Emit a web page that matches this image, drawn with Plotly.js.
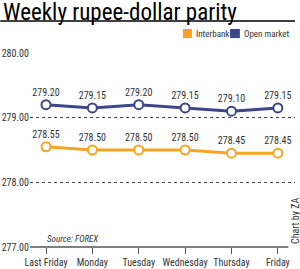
<!DOCTYPE html>
<html><head><meta charset="utf-8">
<script src="https://cdn.plot.ly/plotly-3.0.1.min.js"></script>
<style>html,body{margin:0;padding:0;background:#fff}#c{width:300px;height:269px}</style>
</head><body><div id="c"></div>
<script>
const days = ["Last Friday","Monday","Tuesday","Wednesday","Thursday","Friday"];
const openMarket = [279.20,279.15,279.20,279.15,279.10,279.15];
const interbank = [278.55,278.50,278.50,278.50,278.45,278.45];
const yTicks = [277,278,279,280];
const legendNames = ["Interbank","Open market"];

const FONT = "'Roboto Condensed', 'Liberation Sans', Arial, sans-serif";
const NAVY = "#3b4789";
const ORANGE = "#f5a621";

function series(name, ys, color) {
  return {
    type: "scatter", mode: "lines+markers+text", name: name, showlegend: false,
    x: days, y: ys,
    text: ys.map(v => v.toFixed(2)), textposition: "top center",
    textfont: {family: FONT, size: 10, color: "#333"},
    line: {color: color, width: 3},
    marker: {size: 9, color: "#fff", line: {color: color, width: 2}},
    cliponaxis: false, hoverinfo: "skip"
  };
}

const data = [
  series("Open market", openMarket, NAVY),
  series("Interbank", interbank, ORANGE)
];

const layout = {
  width: 300, height: 269,
  margin: {l: 30, r: 5, t: 53, b: 22},
  paper_bgcolor: "#fff", plot_bgcolor: "#fff",
  font: {family: FONT, size: 9, color: "#333"},
  showlegend: false,
  xaxis: {
    type: "category", range: [-0.345, 5.37],
    showgrid: false, zeroline: false,
    showline: false, ticks: "outside", ticklen: 6, tickcolor: "#555", tickwidth: 1,
    tickfont: {family: FONT, size: 10, color: "#333"}, fixedrange: true
  },
  yaxis: {
    range: [277, 280], tickvals: yTicks, ticktext: yTicks.map(v => v.toFixed(2)),
    showgrid: true, gridcolor: "#444", griddash: "dot", gridwidth: 1,
    zeroline: false, showline: false, ticks: "",
    tickfont: {family: FONT, size: 10, color: "#333"}, fixedrange: true
  },
  shapes: [
    {type: "line", xref: "paper", yref: "paper", x0: 0, x1: 0.975, y0: 0, y1: 0,
     line: {color: "#555", width: 1.5}},
    {type: "line", xref: "paper", yref: "paper", x0: -0.112, x1: 1.0, y0: 1.165, y1: 1.165,
     line: {color: "#000", width: 1.5}},
    {type: "rect", xref: "paper", yref: "paper", x0: 0.577, x1: 0.611, y0: 1.077, y1: 1.124,
     line: {width: 0}, fillcolor: ORANGE},
    {type: "rect", xref: "paper", yref: "paper", x0: 0.755, x1: 0.792, y0: 1.077, y1: 1.124,
     line: {width: 0}, fillcolor: NAVY}
  ],
  annotations: [
    {text: "Weekly rupee-dollar parity", xref: "paper", yref: "paper",
     x: -0.105, y: 1.285, xanchor: "left", yanchor: "top", showarrow: false, borderpad: 0,
     font: {family: FONT, size: 23, color: "#000"}},
    {text: legendNames[0], xref: "paper", yref: "paper",
     x: 0.621, y: 1.1005, xanchor: "left", yanchor: "middle", showarrow: false, borderpad: 0,
     font: {family: FONT, size: 9, color: "#333"}},
    {text: legendNames[1], xref: "paper", yref: "paper",
     x: 0.802, y: 1.1005, xanchor: "left", yanchor: "middle", showarrow: false, borderpad: 0,
     font: {family: FONT, size: 9, color: "#333"}},
    {text: "<i>Source: FOREX</i>", xref: "paper", yref: "paper",
     x: 0.055, y: 0.005, xanchor: "left", yanchor: "bottom", showarrow: false,
     font: {family: FONT, size: 9, color: "#333"}},
    {text: "Chart by ZA", xref: "paper", yref: "paper", textangle: -90,
     x: 1.0, y: 0.005, xanchor: "center", yanchor: "bottom", showarrow: false,
     font: {family: FONT, size: 10, color: "#333"}}
  ]
};

Plotly.newPlot("c", data, layout, {displayModeBar: false, staticPlot: true});
</script></body></html>
